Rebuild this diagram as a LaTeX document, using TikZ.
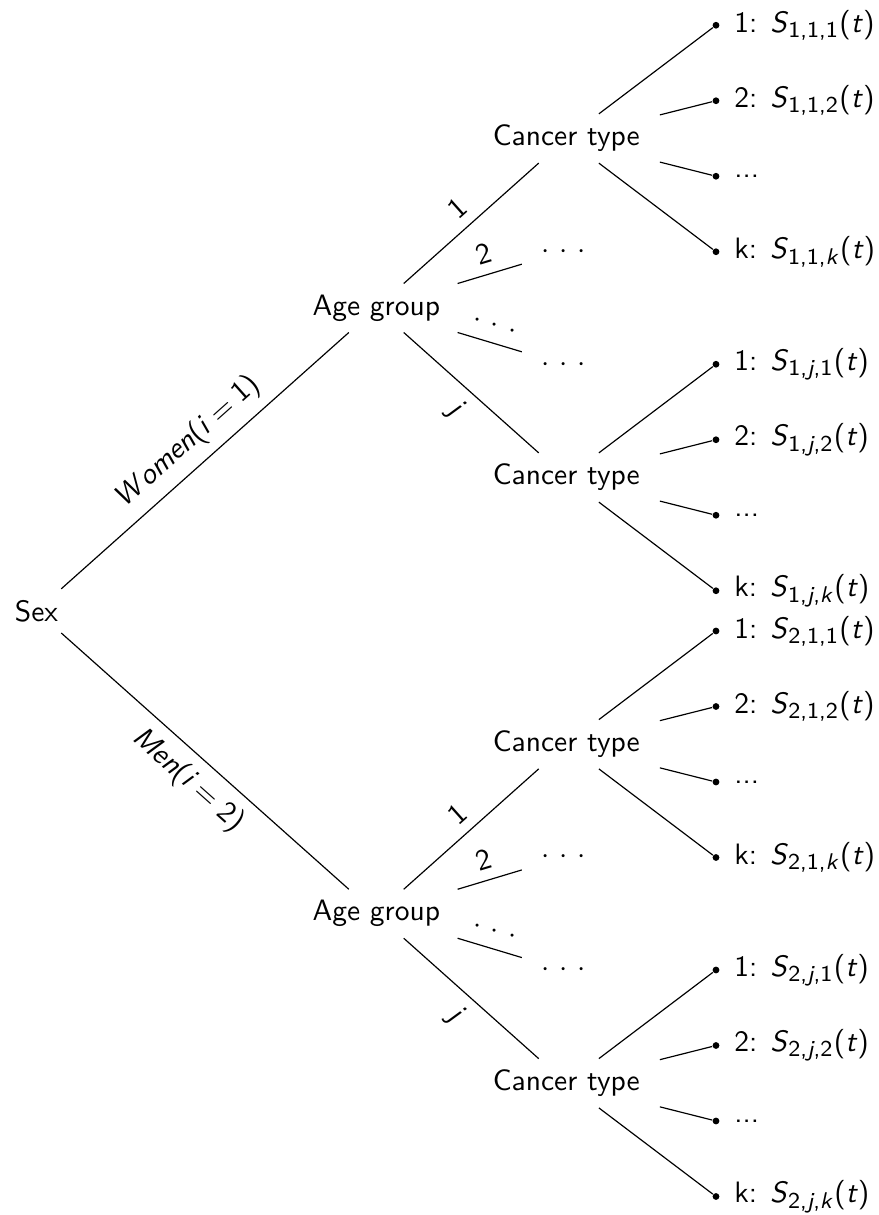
\documentclass[tikz,border=0pt]{standalone}
\tikzset{
  main/.style={inner xsep=6.6pt, inner ysep=3.6pt},
  gap/.style={inner xsep=6.6pt, inner ysep=3.6pt},
  leaf/.style={circle, fill=black, inner sep=0pt, minimum size=2.3pt},
  leaftext/.style={anchor=west, inner xsep=4.7pt, inner ysep=0pt},
  elabel/.style={midway, sloped},
}
\newcommand{\threedots}{$\cdotp\,\cdotp\,\cdotp$}
\newcommand{\vsl}[1]{\textsl{#1}}
\newcommand{\Sfun}[3]{\vsl{S}\textsubscript{\fontsize{7.7pt}{9pt}\selectfont #1,#2,#3}(\vsl{t})}
\newcommand{\eqsp}{\hspace{2.6pt}=\hspace{2.6pt}}
\begin{document}
\begin{tikzpicture}[x=0.339pt, y=-0.339pt, font=\sffamily]
\useasboundingbox (0,0) rectangle (879,1215);

\node[main] (sex) at (36.5,610.9) {Sex};
\node[main] (ag1) at (376.3,308) {Age group};
\node[main] (ag2) at (376.3,913.75) {Age group};

\node[main] (C1) at (566.3,138.5) {Cancer type};
\node[gap] (D11) at (564,251.5) {\threedots};
\node[gap] (D12) at (564,364.5) {\threedots};
\node[main] (C2) at (566.3,477.5) {Cancer type};

\node[main] (C3) at (566.3,744.25) {Cancer type};
\node[gap] (D21) at (564,857.25) {\threedots};
\node[gap] (D22) at (564,970.25) {\threedots};
\node[main] (C4) at (566.3,1083.25) {Cancer type};

\draw (sex) -- node[elabel, above] {\vsl{W\kern1.2pt omen}(\vsl{i}\eqsp 1)} (ag1);
\draw (sex) -- node[elabel, below] {\vsl{Men}(\vsl{i}\eqsp 2)} (ag2);

\draw (ag1) -- node[elabel, above] {1} (C1);
\draw (ag1) -- node[elabel, above] {2} (D11);
\draw (ag1) -- node[elabel, above] {\threedots} (D12);
\draw (ag1) -- node[elabel, below] {\vsl{j}} (C2);

\draw (ag2) -- node[elabel, above] {1} (C3);
\draw (ag2) -- node[elabel, above] {2} (D21);
\draw (ag2) -- node[elabel, above] {\threedots} (D22);
\draw (ag2) -- node[elabel, below] {\vsl{j}} (C4);

\foreach \cn/\cy/\i/\a in {C1/138.5/1/1, C2/477.5/1/\vsl{j}, C3/744.25/2/1, C4/1083.25/2/\vsl{j}} {
  \node[leaf] (\cn-p1) at (716,\cy-113.25) {};
  \node[leaf] (\cn-p2) at (716,\cy-37.75) {};
  \node[leaf] (\cn-p3) at (716,\cy+37.75) {};
  \node[leaf] (\cn-p4) at (716,\cy+113.25) {};
  \node[leaftext] (\cn-t1) at (\cn-p1.east) {1: \Sfun{\i}{\a}{1}};
  \node[leaftext] (\cn-t2) at (\cn-p2.east) {2: \Sfun{\i}{\a}{2}};
  \node[leaftext] (\cn-t3) at (\cn-p3.east) {...};
  \node[leaftext] (\cn-t4) at (\cn-p4.east) {k: \Sfun{\i}{\a}{\vsl{k}}};
  \draw (\cn) -- (\cn-p1);
  \draw (\cn) -- (\cn-p2);
  \draw (\cn) -- (\cn-p3);
  \draw (\cn) -- (\cn-p4);
}
\end{tikzpicture}
\end{document}
